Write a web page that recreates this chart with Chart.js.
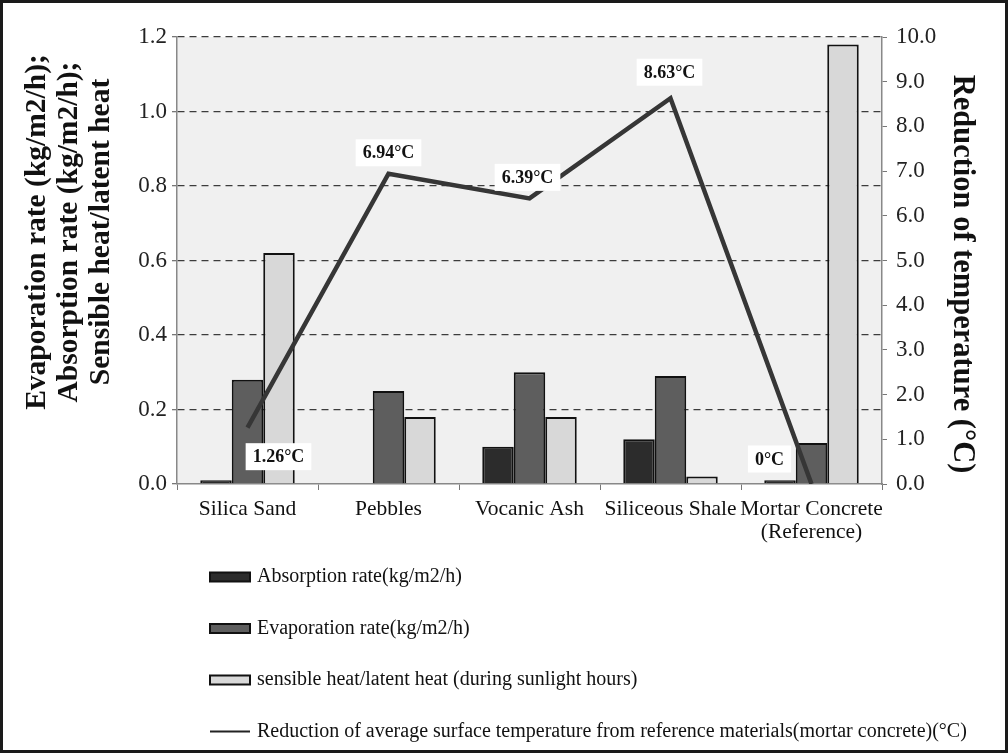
<!DOCTYPE html>
<html>
<head>
<meta charset="utf-8">
<script src="https://cdn.jsdelivr.net/npm/chart.js@4.4.1/dist/chart.umd.min.js"></script>
<style>
  html, body { margin: 0; padding: 0; background: #fff; }
  #wrap { position: relative; width: 1008px; height: 753px; }
  #frame { position: absolute; left: 0; top: 0; width: 1008px; height: 753px; box-sizing: border-box; border: 3px solid #1a1a1a; pointer-events: none; }
</style>
</head>
<body>
<div id="wrap">
  <canvas id="chart"></canvas>
  <div id="frame"></div>
</div>
<script>
// Chart values
const categories = ['Silica Sand', 'Pebbles', 'Vocanic Ash', 'Siliceous Shale', ['Mortar Concrete', '(Reference)']];
const absorptionRate = [0.01, 0, 0.10, 0.12, 0.01];
const evaporationRate = [0.28, 0.25, 0.30, 0.29, 0.11];
const sensibleLatent = [0.62, 0.18, 0.18, 0.02, 1.18];
const tempReduction = [1.26, 6.94, 6.39, 8.63, 0];
const tempLabels = ['1.26°C', '6.94°C', '6.39°C', '8.63°C', '0°C'];
const leftTitle = ['Evaporation rate (kg/m2/h);', 'Absorption rate (kg/m2/h);', 'Sensible heat/latent heat'];
const rightTitle = 'Reduction of temperature (°C)';

const SERIF = '"Liberation Serif", "Times New Roman", serif';

// grey plot background
const plotBackground = {
    id: 'plotBackground',
    beforeDraw(chart) {
        const { ctx, chartArea: a } = chart;
        ctx.save();
        ctx.fillStyle = '#f0f0f0';
        ctx.fillRect(a.left, a.top, a.right - a.left, a.bottom - a.top);
        ctx.restore();
    }
};

// rotated axis titles (left one reads upward, right one downward)
const axisTitles = {
    id: 'axisTitles',
    afterDraw(chart, args, opts) {
        const { ctx } = chart;
        ctx.save();
        ctx.font = 'bold ' + opts.fontSize + 'px ' + SERIF;
        ctx.fillStyle = '#111';
        ctx.textAlign = 'center';
        ctx.textBaseline = 'middle';
        opts.left.lines.forEach((line, i) => {
            ctx.save();
            ctx.translate(opts.left.x + i * opts.left.gap, opts.left.y);
            ctx.rotate(-Math.PI / 2);
            ctx.fillText(line, 0, 0);
            ctx.restore();
        });
        ctx.font = 'bold ' + opts.right.fontSize + 'px ' + SERIF;
        ctx.translate(opts.right.x, opts.right.y);
        ctx.rotate(Math.PI / 2);
        ctx.fillText(opts.right.text, 0, 0);
        ctx.restore();
    }
};

// white boxed labels on the temperature line
const lineLabels = {
    id: 'lineLabels',
    afterDatasetsDraw(chart, args, opts) {
        const { ctx } = chart;
        const meta = chart.getDatasetMeta(opts.datasetIndex);
        ctx.save();
        ctx.font = 'bold 18px ' + SERIF;
        ctx.textAlign = 'center';
        ctx.textBaseline = 'middle';
        meta.data.forEach((pt, i) => {
            const off = opts.offsets[i];
            const x = pt.x + off[0];
            const y = pt.y + off[1];
            const text = opts.labels[i];
            const w = ctx.measureText(text).width + 14;
            const h = 27;
            ctx.fillStyle = '#fff';
            ctx.fillRect(x - w / 2, y - h / 2, w, h);
            ctx.fillStyle = '#111';
            ctx.fillText(text, x, y + 1);
        });
        ctx.restore();
    }
};

// legend stacked one item per row under the chart
const stackedLegend = {
    id: 'stackedLegend',
    afterDraw(chart, args, opts) {
        const { ctx } = chart;
        ctx.save();
        ctx.font = opts.fontSize + 'px ' + SERIF;
        ctx.textBaseline = 'middle';
        chart.data.datasets.forEach((ds, i) => {
            const y = opts.top + i * opts.rowGap;
            const x = opts.left;
            if (ds.type === 'line') {
                ctx.strokeStyle = '#222';
                ctx.lineWidth = 2;
                ctx.beginPath();
                ctx.moveTo(x, y);
                ctx.lineTo(x + 40, y);
                ctx.stroke();
            } else {
                ctx.fillStyle = ds.backgroundColor;
                ctx.fillRect(x, y - 4.5, 40, 9);
                ctx.strokeStyle = '#111';
                ctx.lineWidth = 2;
                ctx.strokeRect(x, y - 4.5, 40, 9);
            }
            ctx.fillStyle = '#111';
            ctx.fillText(ds.label, x + 47, y);
        });
        ctx.restore();
    }
};

const ctx = document.getElementById('chart').getContext('2d');
const chart = new Chart(ctx, {
    data: {
        labels: categories,
        datasets: [{
            type: 'bar',
            label: 'Absorption rate(kg/m2/h)',
            data: absorptionRate,
            backgroundColor: '#2c2c2c',
            borderColor: '#111',
            borderWidth: 2,
            yAxisID: 'y',
            order: 1
        }, {
            type: 'bar',
            label: 'Evaporation rate(kg/m2/h)',
            data: evaporationRate,
            backgroundColor: '#5e5e5e',
            borderColor: '#111',
            borderWidth: 2,
            yAxisID: 'y',
            order: 1
        }, {
            type: 'bar',
            label: 'sensible heat/latent heat (during sunlight hours)',
            data: sensibleLatent,
            backgroundColor: '#d8d8d8',
            borderColor: '#111',
            borderWidth: 2,
            yAxisID: 'y',
            order: 1
        }, {
            type: 'line',
            label: 'Reduction of average surface temperature from reference materials(mortar concrete)(°C)',
            data: tempReduction,
            borderColor: '#363636',
            borderWidth: 4.5,
            pointRadius: 0,
            tension: 0,
            yAxisID: 'y1',
            order: 0
        }]
    },
    options: {
        responsive: true,
        maintainAspectRatio: false,
        animation: false,
        datasets: {
            bar: { categoryPercentage: 0.67, barPercentage: 1.0 }
        },
        layout: { padding: { top: 37, bottom: 209, left: 0, right: 0 } },
        plugins: {
            legend: { display: false },
            tooltip: { enabled: false },
            axisTitles: {
                fontSize: 29.5,
                left: { lines: leftTitle, x: 37, gap: 32, y: 232 },
                right: { text: rightTitle, x: 962, y: 274, fontSize: 30.5 }
            },
            lineLabels: {
                datasetIndex: 3,
                labels: tempLabels,
                offsets: [[31, 29], [0, -21], [-2, -21], [-1, -26], [-42, -25]]
            },
            stackedLegend: { left: 210, top: 577, rowGap: 51.5, fontSize: 20 }
        },
        scales: {
            x: {
                afterFit(scale) { scale.height = 60; },
                grid: { drawOnChartArea: false, offset: true, tickLength: 6, tickColor: '#777' },
                border: { color: '#888', width: 1.5 },
                ticks: {
                    color: '#111',
                    padding: 8,
                    autoSkip: false,
                    maxRotation: 0,
                    font: { family: SERIF, size: 21.5, lineHeight: 1.08 }
                }
            },
            y: {
                position: 'left',
                min: 0,
                max: 1.2,
                afterFit(scale) { scale.width = 177; },
                ticks: {
                    stepSize: 0.2,
                    color: '#222',
                    padding: 5,
                    font: { family: SERIF, size: 23 },
                    callback: v => v.toFixed(1)
                },
                grid: {
                    color: c => c.tick.value === 0 ? 'rgba(0,0,0,0)' : '#3c3c3c',
                    lineWidth: 1.3,
                    tickLength: 5,
                    tickColor: '#777'
                },
                border: { color: '#888', width: 1.5, dash: [7, 5] }
            },
            y1: {
                position: 'right',
                min: 0,
                max: 10,
                afterFit(scale) { scale.width = 126; },
                ticks: {
                    stepSize: 1,
                    color: '#222',
                    padding: 9,
                    font: { family: SERIF, size: 23 },
                    callback: v => v.toFixed(1)
                },
                grid: { drawOnChartArea: false, tickLength: 5, tickColor: '#777' },
                border: { color: '#888', width: 1.5 }
            }
        }
    },
    plugins: [plotBackground, axisTitles, lineLabels, stackedLegend]
});
</script>
</body>
</html>
